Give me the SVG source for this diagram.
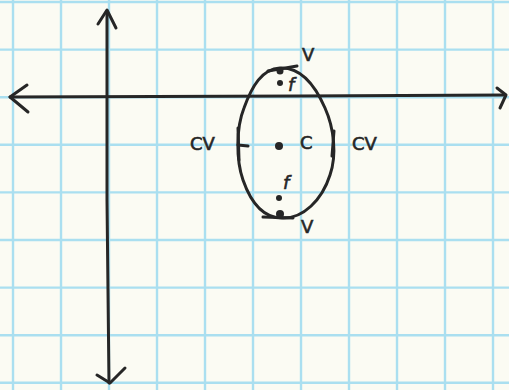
<svg xmlns="http://www.w3.org/2000/svg" width="509" height="390" viewBox="0 0 509 390">
<style>
.grid line{stroke:#aadff0;stroke-width:2.4}
.ink{fill:none;stroke:#262626;stroke-width:3;stroke-linecap:round;stroke-linejoin:round}
.dot{fill:#262626}
.lbl{font-family:"DejaVu Sans",sans-serif;font-size:18px;fill:#262626;stroke:#262626;stroke-width:0.6}
</style>
<rect width="509" height="390" fill="#fbfbf3"/>
<g class="grid">
<line x1="13" y1="0" x2="13" y2="390"/><line x1="61" y1="0" x2="61" y2="390"/><line x1="109" y1="0" x2="109" y2="390"/><line x1="157" y1="0" x2="157" y2="390"/><line x1="205" y1="0" x2="205" y2="390"/><line x1="253" y1="0" x2="253" y2="390"/><line x1="301" y1="0" x2="301" y2="390"/><line x1="349" y1="0" x2="349" y2="390"/><line x1="397" y1="0" x2="397" y2="390"/><line x1="445" y1="0" x2="445" y2="390"/><line x1="493" y1="0" x2="493" y2="390"/>
<line x1="0" y1="2" x2="509" y2="2"/><line x1="0" y1="49.6" x2="509" y2="49.6"/><line x1="0" y1="97.2" x2="509" y2="97.2"/><line x1="0" y1="144.8" x2="509" y2="144.8"/><line x1="0" y1="192.4" x2="509" y2="192.4"/><line x1="0" y1="240" x2="509" y2="240"/><line x1="0" y1="287.6" x2="509" y2="287.6"/><line x1="0" y1="335.2" x2="509" y2="335.2"/><line x1="0" y1="382.8" x2="509" y2="382.8"/>
</g>
<g id="axes" class="ink">
<path d="M10 97 L300 96 L505 95"/>
<path d="M27 85 L10 97 L28 112"/>
<path d="M497 88 L506 95 L500 108"/>
<path d="M107 11 L107 200 L109 383"/>
<path d="M98 24 L107 10 L116 28"/>
<path d="M97 375 L110 383 L125 368"/>
</g>
<g id="ellipse">
<path class="ink" d="M280 68 C300 67 315 85 325 108 C334 128 337 155 330 175 C322 200 303 219 282 218 C262 218 250 200 243 180 C236 160 236 128 244 108 C252 86 262 69 280 68 Z"/>
<path class="ink" d="M268 71 L297 66"/>
<path class="ink" d="M263 217 L293 218"/>
<path class="ink" d="M238 128 L239 160 M238 145 L248 146"/>
<path class="ink" d="M334 131 L332 156"/>
<circle class="dot" cx="280" cy="71" r="3.5"/>
<circle class="dot" cx="280" cy="83" r="3"/>
<circle class="dot" cx="279" cy="146" r="4"/>
<circle class="dot" cx="279" cy="198" r="3"/>
<circle class="dot" cx="280" cy="214" r="4"/>
</g>
<g id="labels">
<text class="lbl" x="302" y="61">V</text>
<text class="lbl" x="288" y="91" font-style="italic">f</text>
<text class="lbl" x="190" y="150">CV</text>
<text class="lbl" x="300" y="149">C</text>
<text class="lbl" x="352" y="150">CV</text>
<text class="lbl" x="283" y="189" font-style="italic">f</text>
<text class="lbl" x="301" y="233">V</text>
</g>
</svg>
